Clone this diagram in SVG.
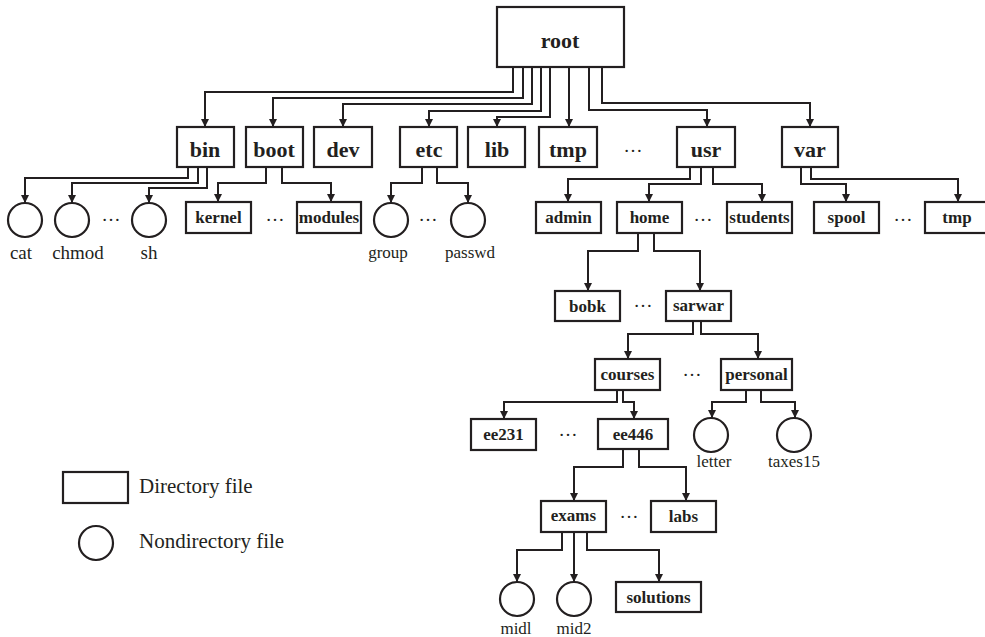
<svg xmlns="http://www.w3.org/2000/svg" width="985" height="637" viewBox="0 0 985 637">
  <defs>
    <marker id="arrow" viewBox="0 0 10 10" refX="10" refY="5" markerWidth="8" markerHeight="8" markerUnits="userSpaceOnUse" orient="auto">
      <path d="M0,0 L10,5 L0,10 z" fill="#231f20"/>
    </marker>
    <style>
      .box { fill: #fff; stroke: #231f20; stroke-width: 2.2; }
      .file { fill: #fff; stroke: #231f20; stroke-width: 2.2; }
      .link { fill: none; stroke: #231f20; stroke-width: 2; marker-end: url(#arrow); }
      .big { font-family: "Liberation Serif", "Times New Roman", serif; font-weight: bold; font-size: 22px; fill: #231f20; text-anchor: middle; }
      .dir { font-family: "Liberation Serif", "Times New Roman", serif; font-weight: bold; font-size: 17px; fill: #231f20; text-anchor: middle; }
      .lbl { font-family: "Liberation Serif", "Times New Roman", serif; font-size: 17px; fill: #231f20; text-anchor: middle; }
      .lbl-lg { font-family: "Liberation Serif", "Times New Roman", serif; font-size: 19px; fill: #231f20; text-anchor: middle; }
      .legend { font-family: "Liberation Serif", "Times New Roman", serif; font-size: 21px; fill: #231f20; }
      .dots { font-family: "Liberation Serif", "Times New Roman", serif; font-size: 19px; fill: #231f20; text-anchor: middle; }
    </style>
  </defs>
  <rect width="985" height="637" fill="#fff"/>

  <!-- connectors -->
  <g id="connectors">
    <path class="link" d="M513,67 V92 H205 V127"/>
    <path class="link" d="M523,67 V98 H273 V127"/>
    <path class="link" d="M532,67 V104 H343 V127"/>
    <path class="link" d="M541,67 V111 H429 V127"/>
    <path class="link" d="M550,67 V117 H497 V127"/>
    <path class="link" d="M569,67 V127"/>
    <path class="link" d="M589,67 V110 H707 V127"/>
    <path class="link" d="M602,67 V103 H810 V127"/>

    <path class="link" d="M188,167 V178 H25 V203"/>
    <path class="link" d="M198,167 V183 H72 V203"/>
    <path class="link" d="M207,167 V188 H149 V203"/>
    <path class="link" d="M266,167 V183 H218 V202"/>
    <path class="link" d="M282,167 V183 H331 V202"/>
    <path class="link" d="M422,167 V183 H391 V203"/>
    <path class="link" d="M437,167 V183 H468 V203"/>
    <path class="link" d="M690,167 V179 H568 V202"/>
    <path class="link" d="M701,167 V184 H649 V202"/>
    <path class="link" d="M713,167 V184 H762 V202"/>
    <path class="link" d="M801,167 V184 H846 V202"/>
    <path class="link" d="M811,167 V179 H958 V202"/>

    <path class="link" d="M638,233 V251 H588 V291"/>
    <path class="link" d="M654,233 V251 H700 V291"/>
    <path class="link" d="M693,321 V334 H628 V359"/>
    <path class="link" d="M701,321 V334 H758 V359"/>
    <path class="link" d="M617,390 V402 H504 V419"/>
    <path class="link" d="M623,390 V402 H634 V419"/>
    <path class="link" d="M746,390 V402 H712 V418"/>
    <path class="link" d="M761,390 V402 H795 V418"/>
    <path class="link" d="M623,449 V467 H574 V501"/>
    <path class="link" d="M639,449 V467 H686 V501"/>
    <path class="link" d="M562,532 V550 H517 V582"/>
    <path class="link" d="M574,532 V582"/>
    <path class="link" d="M587,532 V550 H659 V582"/>
  </g>

  <!-- top-level directories -->
  <g id="root"><rect class="box" x="497" y="7" width="127" height="60"/><text class="big" x="560" y="48">root</text></g>
  <g id="bin"><rect class="box" x="177" y="127" width="57" height="40"/><text class="big" x="205" y="157">bin</text></g>
  <g id="boot"><rect class="box" x="246" y="127" width="57" height="40"/><text class="big" x="274" y="157">boot</text></g>
  <g id="dev"><rect class="box" x="314" y="127" width="58" height="40"/><text class="big" x="343" y="157">dev</text></g>
  <g id="etc"><rect class="box" x="400" y="127" width="57" height="40"/><text class="big" x="429" y="157">etc</text></g>
  <g id="lib"><rect class="box" x="468" y="127" width="57" height="40"/><text class="big" x="497" y="157">lib</text></g>
  <g id="tmp"><rect class="box" x="539" y="127" width="58" height="40"/><text class="big" x="568" y="157">tmp</text></g>
  <text class="dots" x="633" y="152">…</text>
  <g id="usr"><rect class="box" x="677" y="127" width="58" height="40"/><text class="big" x="706" y="157">usr</text></g>
  <g id="var"><rect class="box" x="782" y="127" width="56" height="40"/><text class="big" x="810" y="157">var</text></g>

  <!-- /bin files -->
  <g id="cat"><circle class="file" cx="25" cy="220" r="17"/><text class="lbl-lg" x="21" y="259">cat</text></g>
  <g id="chmod"><circle class="file" cx="72" cy="220" r="17"/><text class="lbl-lg" x="78" y="259">chmod</text></g>
  <text class="dots" x="111" y="221">…</text>
  <g id="sh"><circle class="file" cx="149" cy="220" r="17"/><text class="lbl-lg" x="149" y="259">sh</text></g>

  <!-- /boot -->
  <g id="kernel"><rect class="box" x="186" y="202" width="65" height="31"/><text class="dir" x="218.5" y="223">kernel</text></g>
  <text class="dots" x="275" y="221">…</text>
  <g id="modules"><rect class="box" x="297" y="202" width="64" height="31"/><text class="dir" x="329" y="223">modules</text></g>

  <!-- /etc -->
  <g id="group"><circle class="file" cx="391" cy="220" r="17"/><text class="lbl" x="388" y="258">group</text></g>
  <text class="dots" x="428" y="221">…</text>
  <g id="passwd"><circle class="file" cx="468" cy="220" r="17"/><text class="lbl" x="470" y="258">passwd</text></g>

  <!-- /usr -->
  <g id="admin"><rect class="box" x="536" y="202" width="65" height="31"/><text class="dir" x="568.5" y="223">admin</text></g>
  <g id="home"><rect class="box" x="617" y="202" width="65" height="31"/><text class="dir" x="649.5" y="223">home</text></g>
  <text class="dots" x="703" y="221">…</text>
  <g id="students"><rect class="box" x="727" y="202" width="65" height="31"/><text class="dir" x="759.5" y="223">students</text></g>

  <!-- /var -->
  <g id="spool"><rect class="box" x="814" y="202" width="65" height="31"/><text class="dir" x="846.5" y="223">spool</text></g>
  <text class="dots" x="903" y="221">…</text>
  <g id="var-tmp"><rect class="box" x="925" y="202" width="65" height="31"/><text class="dir" x="957" y="223">tmp</text></g>

  <!-- /usr/home -->
  <g id="bobk"><rect class="box" x="555" y="291" width="65" height="30"/><text class="dir" x="587.5" y="312">bobk</text></g>
  <text class="dots" x="643" y="307">…</text>
  <g id="sarwar"><rect class="box" x="666" y="291" width="65" height="30"/><text class="dir" x="698.5" y="311">sarwar</text></g>

  <g id="courses"><rect class="box" x="595" y="359" width="65" height="31"/><text class="dir" x="627.5" y="380">courses</text></g>
  <text class="dots" x="692" y="376">…</text>
  <g id="personal"><rect class="box" x="721" y="359" width="71" height="31"/><text class="dir" x="756.5" y="380">personal</text></g>

  <g id="ee231"><rect class="box" x="471" y="419" width="65" height="31"/><text class="dir" x="503.5" y="440">ee231</text></g>
  <text class="dots" x="568" y="436">…</text>
  <g id="ee446"><rect class="box" x="598" y="419" width="70" height="30"/><text class="dir" x="633" y="440">ee446</text></g>

  <g id="letter"><circle class="file" cx="711" cy="435" r="17"/><text class="lbl" x="714" y="467">letter</text></g>
  <g id="taxes15"><circle class="file" cx="794" cy="435" r="17"/><text class="lbl" x="794" y="467">taxes15</text></g>

  <g id="exams"><rect class="box" x="541" y="501" width="65" height="31"/><text class="dir" x="573.5" y="521">exams</text></g>
  <text class="dots" x="629" y="518">…</text>
  <g id="labs"><rect class="box" x="651" y="501" width="65" height="31"/><text class="dir" x="683.5" y="522">labs</text></g>

  <g id="midl"><circle class="file" cx="517" cy="599" r="17"/><text class="lbl" x="516" y="634">midl</text></g>
  <g id="mid2"><circle class="file" cx="574" cy="599" r="17"/><text class="lbl" x="574" y="634">mid2</text></g>
  <g id="solutions"><rect class="box" x="616" y="582" width="85" height="30"/><text class="dir" x="658.5" y="603">solutions</text></g>

  <!-- legend -->
  <g id="legend">
    <rect class="box" x="63" y="472" width="65" height="31"/>
    <text class="legend" x="139" y="493">Directory file</text>
    <circle class="file" cx="96" cy="543" r="17"/>
    <text class="legend" x="139" y="548">Nondirectory file</text>
  </g>
</svg>
